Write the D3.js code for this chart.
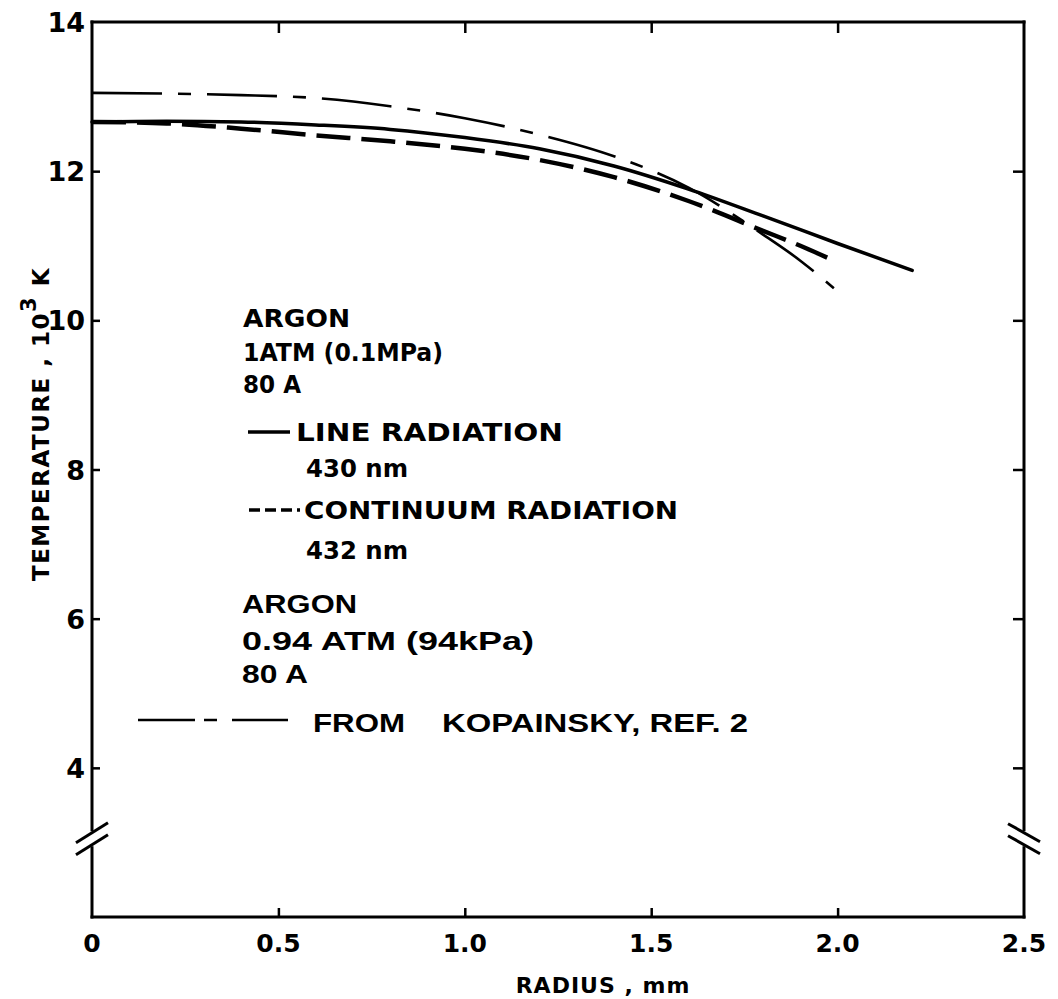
<!DOCTYPE html>
<html>
<head>
<meta charset="utf-8">
<script src="https://cdn.jsdelivr.net/npm/d3@7/dist/d3.min.js"></script>
<style>
  body { margin: 0; background: #fff; }
  text { fill: #000; font-weight: bold; }
</style>
</head>
<body>
<svg id="chart" width="1058" height="999"></svg>
<script>
// Values (radius in mm, temperature in 10^3 K)
const lineRadius = [0, 0.2, 0.4, 0.6, 0.8, 1.0, 1.2, 1.4, 1.6, 1.8, 2.0, 2.2];
const lineTemp = [12.66, 12.67, 12.66, 12.62, 12.56, 12.45, 12.3, 12.07, 11.76, 11.4, 11.03, 10.67];

const contRadius = [0, 0.2, 0.4, 0.6, 0.8, 1.0, 1.2, 1.4, 1.6, 1.8, 1.9, 1.99];
const contTemp = [12.66, 12.64, 12.57, 12.48, 12.4, 12.3, 12.15, 11.92, 11.6, 11.2, 11.0, 10.8];

const kopRadius = [0, 0.2, 0.4, 0.6, 0.8, 1.0, 1.2, 1.4, 1.6, 1.8, 1.9, 1.99];
const kopTemp = [13.05, 13.04, 13.02, 12.98, 12.87, 12.71, 12.49, 12.2, 11.78, 11.15, 10.8, 10.43];

const xTicks = [0, 0.5, 1.0, 1.5, 2.0, 2.5];
const xTickLabels = ['0', '0.5', '1.0', '1.5', '2.0', '2.5'];
const yTicks = [4, 6, 8, 10, 12, 14];
const yBreak = 3.05; // axis break between 2 and 4

const groupOne = ['ARGON', '1ATM (0.1MPa)', '80 A'];
const groupTwo = ['ARGON', '0.94 ATM (94kPa)', '80 A'];

const svg = d3.select('#chart');

const x = d3.scaleLinear([0, 2.5], [92, 1024]);
const y = d3.scaleLinear([2, 14], [917, 22]);

const x0 = x(0), x1 = x(2.5), yTop = y(14), yBot = y(2);
const yb = y(yBreak);
const gap = 9;

// frame (with the break on both sides)
const frame = svg.append('g')
  .attr('stroke', '#000')
  .attr('stroke-width', 3)
  .attr('stroke-linecap', 'square')
  .attr('fill', 'none');

frame.append('line').attr('x1', x0).attr('x2', x1).attr('y1', yTop).attr('y2', yTop);
frame.append('line').attr('x1', x0).attr('x2', x1).attr('y1', yBot).attr('y2', yBot);
[x0, x1].forEach((ax) => {
  frame.append('line').attr('x1', ax).attr('x2', ax).attr('y1', yTop).attr('y2', yb - gap);
  frame.append('line').attr('x1', ax).attr('x2', ax).attr('y1', yb + gap).attr('y2', yBot);
});

// break marks
const brk = svg.append('g').attr('stroke', '#000').attr('stroke-width', 3);
[-6, 6].forEach((o) => {
  brk.append('line')
    .attr('x1', x0 - 16).attr('y1', yb + o + 10)
    .attr('x2', x0 + 16).attr('y2', yb + o - 10);
  brk.append('line')
    .attr('x1', x1 - 16).attr('y1', yb + o - 9)
    .attr('x2', x1 + 16).attr('y2', yb + o + 9);
});

// inward ticks, all four sides
const inner = xTicks.filter((d) => d > 0 && d < 2.5);
const innerY = yTicks.filter((d) => d < 14);

svg.append('g')
  .attr('transform', `translate(0,${yBot})`)
  .call(d3.axisBottom(x).tickValues(inner).tickSize(-9).tickFormat(''))
  .call((g) => g.select('.domain').remove())
  .call((g) => g.selectAll('line').attr('stroke-width', 2.5));

svg.append('g')
  .attr('transform', `translate(0,${yTop})`)
  .call(d3.axisTop(x).tickValues(inner).tickSize(-11).tickFormat(''))
  .call((g) => g.select('.domain').remove())
  .call((g) => g.selectAll('line').attr('stroke-width', 2.5));

svg.append('g')
  .attr('transform', `translate(${x0},0)`)
  .call(d3.axisLeft(y).tickValues(innerY).tickSize(-8).tickFormat(''))
  .call((g) => g.select('.domain').remove())
  .call((g) => g.selectAll('line').attr('stroke-width', 2.5));

svg.append('g')
  .attr('transform', `translate(${x1},0)`)
  .call(d3.axisRight(y).tickValues(innerY).tickSize(-11).tickFormat(''))
  .call((g) => g.select('.domain').remove())
  .call((g) => g.selectAll('line').attr('stroke-width', 2.5));

// tick labels
const labelFont = '"DejaVu Sans", sans-serif';

svg.append('g')
  .selectAll('text')
  .data(xTicks)
  .join('text')
    .attr('x', (d) => x(d))
    .attr('y', 952)
    .attr('text-anchor', 'middle')
    .attr('font-family', labelFont)
    .attr('font-size', 25)
    .text((d, i) => xTickLabels[i]);

svg.append('g')
  .selectAll('text')
  .data(yTicks)
  .join('text')
    .attr('x', 85)
    .attr('y', (d) => y(d) + 10)
    .attr('text-anchor', 'end')
    .attr('font-family', labelFont)
    .attr('font-size', 27)
    .text((d) => d);

// axis titles
svg.append('text')
  .attr('x', 603)
  .attr('y', 993)
  .attr('text-anchor', 'middle')
  .attr('font-family', labelFont)
  .attr('font-size', 22)
  .attr('letter-spacing', 1)
  .text('RADIUS , mm');

const yTitle = svg.append('text')
  .attr('transform', 'translate(49,424) rotate(-90)')
  .attr('text-anchor', 'middle')
  .attr('font-family', labelFont)
  .attr('font-size', 23)
  .attr('letter-spacing', 1.5);
yTitle.append('tspan').text('TEMPERATURE , 10');
yTitle.append('tspan').attr('dy', -13).attr('font-size', 21).text('3');
yTitle.append('tspan').attr('dy', 13).text(' K');

// curves
const line = d3.line()
  .x((d) => x(d[0]))
  .y((d) => y(d[1]))
  .curve(d3.curveMonotoneX);

svg.append('path')
  .datum(d3.zip(kopRadius, kopTemp))
  .attr('fill', 'none')
  .attr('stroke', '#000')
  .attr('stroke-width', 2.6)
  .attr('stroke-dasharray', '70,16,13,16')
  .attr('d', line);

svg.append('path')
  .datum(d3.zip(contRadius, contTemp))
  .attr('fill', 'none')
  .attr('stroke', '#000')
  .attr('stroke-width', 4.5)
  .attr('stroke-dasharray', '34,11')
  .attr('d', line);

svg.append('path')
  .datum(d3.zip(lineRadius, lineTemp))
  .attr('fill', 'none')
  .attr('stroke', '#000')
  .attr('stroke-width', 3.5)
  .attr('stroke-linecap', 'round')
  .attr('d', line);

// legend / annotation text
const g1 = svg.append('g')
  .attr('font-family', labelFont)
  .attr('font-size', 24);

g1.selectAll('text.head')
  .data(groupOne)
  .join('text')
    .attr('class', 'head')
    .attr('x', 243)
    .attr('y', (d, i) => [327, 361, 393][i])
    .attr('textLength', (d, i) => [107, 200, 58][i])
    .attr('lengthAdjust', 'spacingAndGlyphs')
    .text((d) => d);

g1.append('line')
  .attr('x1', 248).attr('x2', 290).attr('y1', 432).attr('y2', 432)
  .attr('stroke', '#000').attr('stroke-width', 3.5);
g1.append('text').attr('x', 296).attr('y', 441)
  .attr('textLength', 267).attr('lengthAdjust', 'spacingAndGlyphs')
  .text('LINE  RADIATION');
g1.append('text').attr('x', 306).attr('y', 477)
  .attr('textLength', 102).attr('lengthAdjust', 'spacingAndGlyphs')
  .text('430 nm');

g1.append('line')
  .attr('x1', 249).attr('x2', 300).attr('y1', 510).attr('y2', 510)
  .attr('stroke', '#000').attr('stroke-width', 3.5)
  .attr('stroke-dasharray', '11,5');
g1.append('text').attr('x', 304).attr('y', 519)
  .attr('textLength', 374).attr('lengthAdjust', 'spacingAndGlyphs')
  .text('CONTINUUM RADIATION');
g1.append('text').attr('x', 306).attr('y', 559)
  .attr('textLength', 102).attr('lengthAdjust', 'spacingAndGlyphs')
  .text('432 nm');

const g2 = svg.append('g')
  .attr('font-family', '"Liberation Sans", Arial, sans-serif')
  .attr('font-size', 25);

g2.selectAll('text.head')
  .data(groupTwo)
  .join('text')
    .attr('class', 'head')
    .attr('x', 242)
    .attr('y', (d, i) => [613, 650, 683][i])
    .attr('textLength', (d, i) => [115, 292, 66][i])
    .attr('lengthAdjust', 'spacingAndGlyphs')
    .text((d) => d);

g2.append('path')
  .attr('d', 'M138,720H288')
  .attr('fill', 'none')
  .attr('stroke', '#000').attr('stroke-width', 2.6)
  .attr('stroke-dasharray', '57,9,13,15,56');
g2.append('text').attr('x', 313).attr('y', 732)
  .attr('textLength', 92).attr('lengthAdjust', 'spacingAndGlyphs')
  .text('FROM');
g2.append('text').attr('x', 442).attr('y', 732)
  .attr('textLength', 306).attr('lengthAdjust', 'spacingAndGlyphs')
  .text('KOPAINSKY, REF. 2');
</script>
</body>
</html>
